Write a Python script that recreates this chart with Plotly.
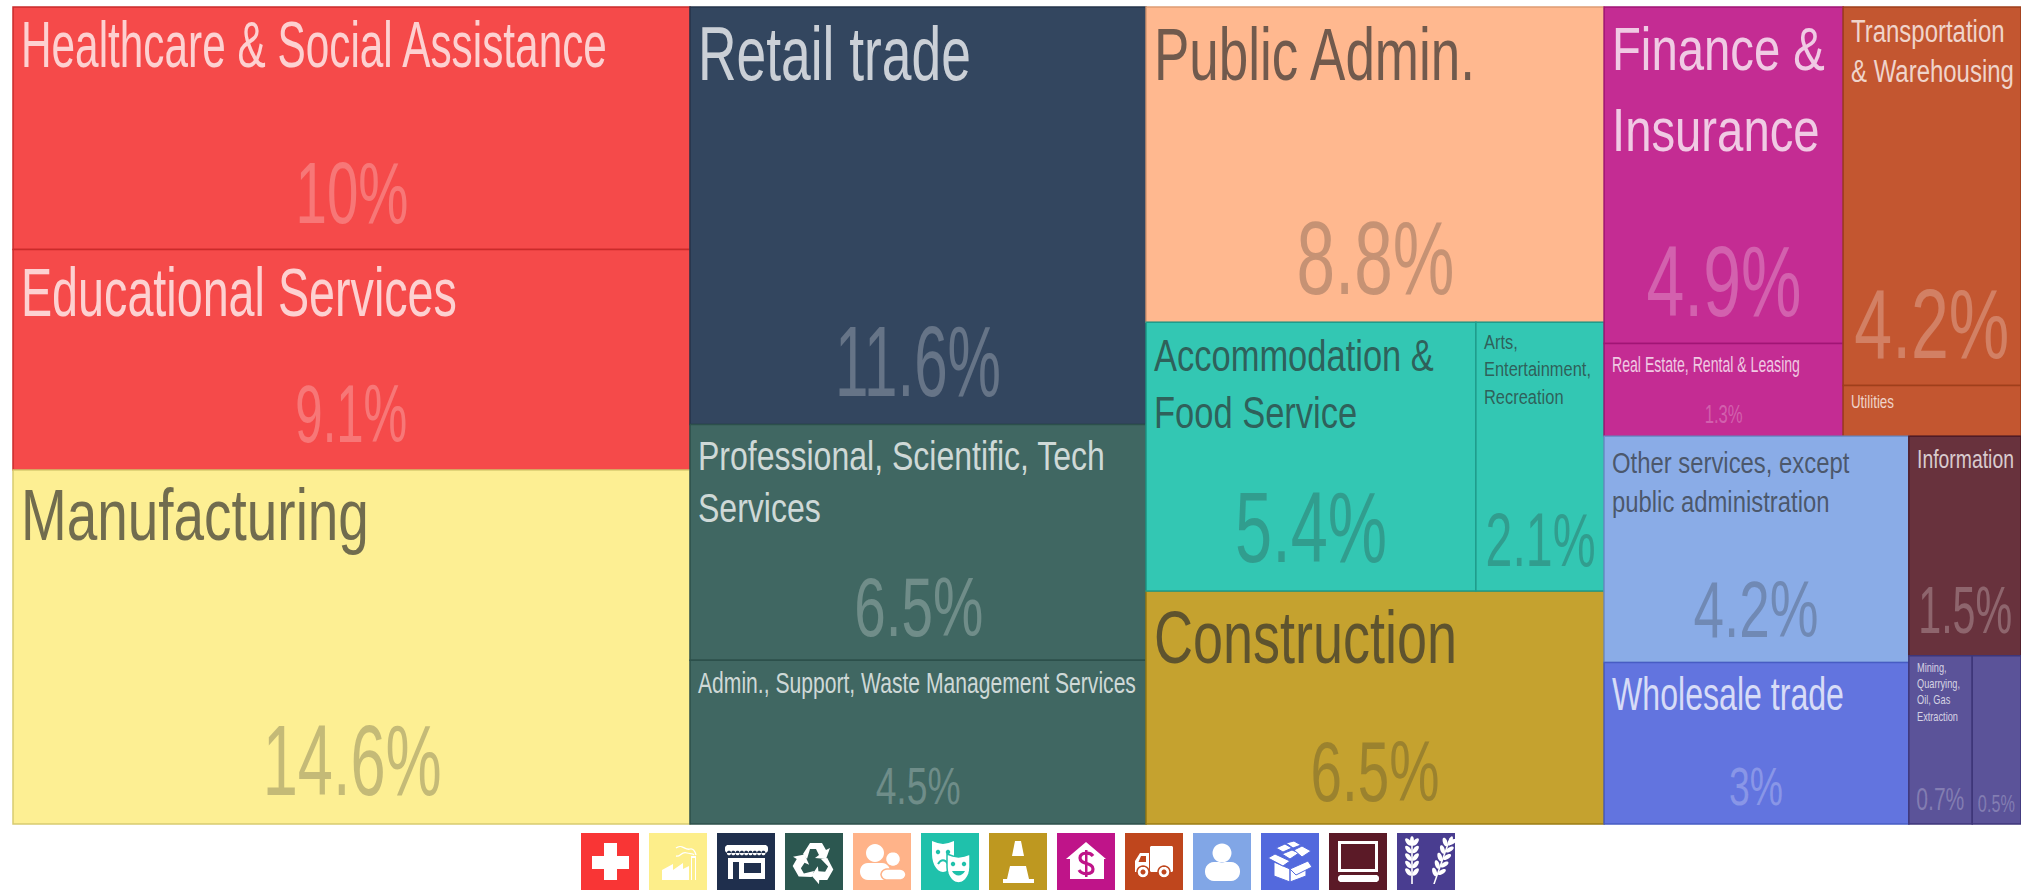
import json
import math
import re
import plotly.graph_objects as go

# ---------- data ----------
sectors = ["Healthcare", "Education", "Manufacturing", "Retail", "Professional", "Admin",
           "Public Admin", "Accommodation", "Arts", "Construction", "Finance", "Real Estate",
           "Transportation", "Utilities", "Other services", "Wholesale", "Information",
           "Mining", "Agriculture"]
values = [10.0, 9.1, 14.6, 11.6, 6.55, 4.55, 8.8, 5.4, 2.1, 6.5, 4.9, 1.35, 4.1, 0.55, 4.2, 3.0, 1.5, 0.65, 0.5]
names = ["Healthcare & Social Assistance", "Educational Services", "Manufacturing", "Retail trade",
         "Professional, Scientific, Tech<br>Services", "Admin., Support, Waste Management Services",
         "Public Admin.", "Accommodation &<br>Food Service", "Arts,<br>Entertainment,<br>Recreation",
         "Construction", "Finance &<br>Insurance", "Real Estate, Rental & Leasing",
         "Transportation<br>& Warehousing", "Utilities", "Other services, except<br>public administration",
         "Wholesale trade", "Information", "Mining,<br>Quarrying,<br>Oil, Gas<br>Extraction", ""]
percents = ["10%", "9.1%", "14.6%", "11.6%", "6.5%", "4.5%", "8.8%", "5.4%", "2.1%", "6.5%", "4.9%",
            "1.3%", "4.2%", "", "4.2%", "3%", "1.5%", "0.7%", "0.5%"]
# nesting of the sectors (slice-and-dice tiling alternates direction per level)
tree = [["Healthcare", "Education", "Manufacturing"],
        ["Retail", "Professional", "Admin"],
        ["Public Admin", ["Accommodation", "Arts"], "Construction"],
        [[["Finance", "Real Estate"], ["Transportation", "Utilities"]],
         [["Other services", "Wholesale"], ["Information", ["Mining", "Agriculture"]]]]]

# ---------- styles ----------
FONT = "Liberation Sans, Arial, sans-serif"
fills = ["#F54A4A", "#F54A4A", "#FDEF93", "#33465F", "#406762", "#406762", "#FFB88F", "#33C7B3", "#33C7B3",
         "#C5A22F", "#C42C93", "#C42C93", "#C35630", "#C35630", "#8AACE7", "#6274DF", "#68323D", "#5B5399", "#5B5399"]
edges = ["#C92B2B", "#C92B2B", "#D8CB70", "#25344B", "#2C504B", "#2C504B", "#DE9C74", "#1F9C8B", "#1F9C8B",
         "#9C7E14", "#A01575", "#A01575", "#9F3F1B", "#9F3F1B", "#6E8FCB", "#475CC4", "#4E1B28", "#3E3679", "#3E3679"]
dark_text = {"Manufacturing", "Public Admin", "Accommodation", "Arts", "Construction", "Other services"}
label_size = [65, 68, 72, 76, 40, 29, 74, 44, 21, 75, 62, 22, 31, 18, 30, 46, 26, 12.5, 10]
label_offset = [38, 43, 46, 47, 32, 23, 48, 33, 19, 46, 42, 20, 24, 16, 26, 31, 22, 12, 12]
label_width = [586, 436, 348, 273, 407, 438, 321, 280, 107, 303, 213, 188, 163, 43, 238, 232, 97, 43, 10]
pct_size = [87, 81, 101, 100, 84, 51, 103, 101, 76, 86, 100, 26, 99, 10, 79, 54, 66, 31, 24]
pct_width = [113, 112, 179, 166, 129, 85, 158, 152, 110, 129, 155, 38, 155, 10, 125, 54, 94, 48, 37]
pct_bottom = [224, 443, 796, 397, 637, 805, 295, 563, 567, 802, 317, 425, 359, 0, 638, 806, 634, 811, 813]
icon_colors = ["#F93535", "#FDEE8A", "#1F2F4D", "#2C5750", "#FFB389", "#1FC1AB", "#BE9820",
               "#BF1489", "#BF461D", "#81A6E6", "#5369DD", "#5B1A27", "#493D90"]

W, H = 2021, 890
L, R, T, B = 13, 2021, 7, 824
idx = {s: i for i, s in enumerate(sectors)}


def px(x):
    return (x - L) / (R - L)


def py(y):
    return (B - y) / (B - T)


# ---------- treemap hierarchy ----------
ids, parents, vals, colors, line_c, line_w = ["root"], [""], [sum(values)], ["rgba(0,0,0,0)"], ["rgba(0,0,0,0)"], [0]
rects = {}


def total(node):
    return values[idx[node]] if isinstance(node, str) else sum(total(c) for c in node)


def walk(node, parent, depth, box, path):
    """Adds children and mirrors the slice-and-dice split to locate the text."""
    x0, y0, x1, y1 = box
    tot = total(node)
    pos = x0 if depth % 2 == 0 else y0
    for k, child in enumerate(node):
        frac = total(child) / tot
        if depth % 2 == 0:
            b = (pos, y0, pos + (x1 - x0) * frac, y1)
            pos = b[2]
        else:
            b = (x0, pos, x1, pos + (y1 - y0) * frac)
            pos = b[3]
        if isinstance(child, str):
            i = idx[child]
            ids.append(child); parents.append(parent); vals.append(values[i])
            colors.append(fills[i]); line_c.append(edges[i]); line_w.append(1.5)
            rects[child] = b
        else:
            nid = f"{path}-{k}"
            ids.append(nid); parents.append(parent); vals.append(total(child))
            colors.append("rgba(0,0,0,0)"); line_c.append("rgba(0,0,0,0)"); line_w.append(0)
            walk(child, nid, depth + 1, b, nid)


walk(tree, "root", 0, (L, T, R, B), "g")

fig = go.Figure(go.Treemap(
    ids=ids, labels=ids, parents=parents, values=vals, branchvalues="total", sort=False,
    textinfo="none", hoverinfo="label+value", pathbar=dict(visible=False),
    tiling=dict(packing="slice-dice", pad=0),
    marker=dict(colors=colors, line=dict(color=line_c, width=line_w), pad=dict(t=0, l=0, r=0, b=0), depthfade=False),
    root=dict(color="rgba(0,0,0,0)"),
))

# ---------- text ----------
ann, fit_w, fit_c = [], [], []
for i, s in enumerate(sectors):
    x0, y0, x1, y1 = rects[s]
    dark = s in dark_text
    lab_col = "rgba(45,45,45,0.68)" if dark else "rgba(255,255,255,0.75)"
    pct_col = "rgba(45,45,45,0.27)" if dark else "rgba(255,255,255,0.25)"
    if names[i]:
        ann.append(dict(text=names[i], x=px(x0 + 7), y=py(y0 + label_offset[i] - 0.58 * label_size[i]),
                        xref="paper", yref="paper", xanchor="left", yanchor="top", align="left", showarrow=False,
                        borderpad=0, font=dict(family=FONT, size=label_size[i], color=lab_col)))
        fit_w.append(label_width[i]); fit_c.append(0)
    if percents[i]:
        ann.append(dict(text=percents[i], x=px((x0 + x1) / 2), y=py(pct_bottom[i] + 0.21 * pct_size[i]),
                        xref="paper", yref="paper", xanchor="center", yanchor="bottom", showarrow=False,
                        borderpad=0, font=dict(family=FONT, size=pct_size[i], color=pct_col)))
        fit_w.append(pct_width[i]); fit_c.append(1)

# ---------- icon strip ----------
ICON_X, ICON_Y, ICON_S, ICON_STEP = 581, 833, 58, 68
shapes = []


def to_paper(path, ox, oy):
    res = ""
    for p in re.split(r"(-?\d+\.?\d*[ ,]+-?\d+\.?\d*)", path):
        m = re.fullmatch(r"(-?\d+\.?\d*)[ ,]+(-?\d+\.?\d*)", p)
        res += f"{px(ox + float(m.group(1))):.6f},{py(oy + float(m.group(2))):.6f}" if m else p
    return res


def poly(points):
    return "M" + " L".join(f"{x:.2f},{y:.2f}" for x, y in points) + " Z "


def circle(cx, cy, r, n=28):
    return poly([(cx + r * math.cos(2 * math.pi * k / n), cy + r * math.sin(2 * math.pi * k / n)) for k in range(n)])


def ellipse(cx, cy, rx, ry, rot=0, n=14):
    c, s = math.cos(rot), math.sin(rot)
    return poly([(cx + rx * math.cos(t) * c - ry * math.sin(t) * s, cy + rx * math.cos(t) * s + ry * math.sin(t) * c)
                 for t in [2 * math.pi * k / n for k in range(n)]])


def rrect(x0, y0, x1, y1, r):
    pts = []
    for cx, cy, a0 in [(x1 - r, y0 + r, -90), (x1 - r, y1 - r, 0), (x0 + r, y1 - r, 90), (x0 + r, y0 + r, 180)]:
        for k in range(7):
            a = math.radians(a0 + 15 * k)
            pts.append((cx + r * math.cos(a), cy + r * math.sin(a)))
    return poly(pts)


def add(path, ox, oy, fill="white", line=None, width=0):
    shapes.append(dict(type="path", path=to_paper(path, ox, oy), xref="paper", yref="paper", layer="above",
                       fillcolor=fill, line=dict(color=line or "rgba(0,0,0,0)", width=width)))


def mask(x0, x1, y0, ytop):
    cx, rx = (x0 + x1) / 2, (x1 - x0) / 2
    pts = [(x0, y0), ((x0 + cx) / 2, y0 + 2), (cx, y0 + 3), ((x1 + cx) / 2, y0 + 2), (x1, y0)]
    pts += [(cx + rx * math.cos(t), y0 + 13 + ytop * math.sin(t)) for t in [math.pi * k / 14 for k in range(15)]]
    return poly(pts)


for n, col in enumerate(icon_colors):
    ox, oy = ICON_X + n * ICON_STEP, ICON_Y
    add(poly([(0, 0), (ICON_S, 0), (ICON_S, ICON_S), (0, ICON_S)]), ox, oy, fill=col)
    if n == 0:  # cross
        add(poly([(23, 10), (36, 10), (36, 23), (48, 23), (48, 36), (36, 36), (36, 47), (23, 47), (23, 36), (11, 36), (11, 23), (23, 23)]), ox, oy)
    elif n == 1:  # factory
        add(poly([(13, 47), (13, 37), (24, 31), (24, 37), (34, 30), (34, 36), (40, 33), (40, 47)]), ox, oy)
        add(poly([(42, 47), (42, 23), (47, 23), (47, 47), (46, 47), (46, 25), (43, 25), (43, 47)]), ox, oy)
        add("M27,15 C33,10 36,18 41,16 C44,15 46,18 47,22", ox, oy, fill="rgba(0,0,0,0)", line="white", width=1.3)
        add("M27,23 C32,24 32,18 38,20 C41,21 44,20 45,22", ox, oy, fill="rgba(0,0,0,0)", line="white", width=1.3)
    elif n == 2:  # store
        add(rrect(8, 12, 51, 20, 3) + "".join(ellipse(12 + 4.3 * k, 20, 2.1, 2.4) for k in range(9)), ox, oy)
        add(poly([(11, 25), (48, 25), (48, 46), (11, 46)]) + poly([(16, 29), (22, 29), (22, 46), (16, 46)]) + poly([(27, 30), (44, 30), (44, 40), (27, 40)]), ox, oy)
    elif n == 3:  # recycling arrows
        arrow = [(-11, -9), (-4, -20), (8, -20), (12, -13), (16, -15), (12, -4), (1, -5), (5, -8), (2, -14), (-4, -14), (-7, -4)]
        for rot in (0, 120, 240):
            a = math.radians(rot)
            add(poly([(29 + x * math.cos(a) - y * math.sin(a), 30 + x * math.sin(a) + y * math.cos(a)) for x, y in arrow]), ox, oy)
    elif n == 4:  # people
        add(circle(22, 20, 9) + rrect(7, 30, 37, 47, 8), ox, oy)
        add(circle(40, 26, 7.5), ox, oy, line=col, width=1.5)
        add(rrect(28, 36, 53, 47, 6), ox, oy, line=col, width=1.5)
    elif n == 5:  # masks
        add(mask(11, 33, 8, 18), ox, oy)
        add(circle(17, 19, 2.2) + circle(27, 19, 2.2), ox, oy, fill=col)
        add("M17,31 C20,26 24,26 27,31", ox, oy, fill="rgba(0,0,0,0)", line=col, width=2)
        add(mask(26, 49, 21, 16), ox, oy, line=col, width=1.5)
        add(circle(32, 31, 2.2) + circle(43, 31, 2.2), ox, oy, fill=col)
        add("M31,38 C34,44 41,44 44,38 Z", ox, oy, fill=col)
    elif n == 6:  # cone
        add(poly([(26, 8), (32, 8), (35, 23), (23, 23)]), ox, oy)
        add(poly([(21, 33), (37, 33), (40, 46), (45, 46), (45, 50), (14, 50), (14, 46), (18, 46)]), ox, oy)
    elif n == 7:  # house with dollar sign
        add(poly([(29, 9), (49, 26), (47, 26), (47, 46), (13, 46), (13, 26), (9, 26)]), ox, oy)
        add("M36,23 C33,19 23,19 23,25 C23,32 36,29 36,36 C36,42 25,42 22,37", ox, oy, fill="rgba(0,0,0,0)", line=col, width=3.2)
        add(poly([(28, 17), (30.5, 17), (30.5, 44), (28, 44)]), ox, oy, fill=col)
    elif n == 8:  # truck
        add(rrect(25, 13, 48, 39, 1.5), ox, oy)
        add(poly([(15, 20), (24, 20), (24, 39), (10, 39), (10, 28)]) + poly([(16, 23), (21, 23), (21, 29), (13.5, 29)]), ox, oy)
        add(circle(18, 39, 6) + circle(39, 39, 6), ox, oy, line=col, width=1.5)
        add(circle(18, 39, 2.5) + circle(39, 39, 2.5), ox, oy, fill=col)
    elif n == 9:  # person
        add(circle(29, 20, 9.5) + rrect(12, 29, 47, 48, 9), ox, oy)
    elif n == 10:  # open box
        add(poly([(13, 29), (29, 36), (45, 29), (45, 43), (29, 49), (13, 43)]), ox, oy, line=col, width=1)
        add(poly([(29, 36), (29, 49)]), ox, oy, line=col, width=1)
        add(poly([(7, 25), (14, 21), (29, 28), (22, 33)]), ox, oy, line=col, width=1)
        add(poly([(29, 36), (47, 28), (51, 34), (35, 42)]), ox, oy, line=col, width=1)
        add(poly([(15, 15), (24, 11), (31, 15), (22, 19)]), ox, oy, line=col, width=1)
        add(poly([(25, 10), (33, 8), (40, 12), (32, 15)]), ox, oy, line=col, width=1)
        add(poly([(21, 21), (31, 17), (38, 20), (29, 26)]), ox, oy, line=col, width=1)
        add(poly([(33, 17), (41, 13), (50, 18), (41, 24)]), ox, oy, line=col, width=1)
    elif n == 11:  # laptop
        add(poly([(9, 8), (49, 8), (49, 39), (9, 39)]) + poly([(12, 11), (46, 11), (46, 36), (12, 36)]), ox, oy)
        add(rrect(9, 42, 50, 49, 3), ox, oy)
    elif n == 12:  # wheat
        for cx, base, tilt in ((15, 51, 0.0), (37, 51, 0.35)):
            for k in range(5):
                t = 6 + k * 7.5
                yy = base - 6 - t
                xx = cx + tilt * (t + 6)
                add(ellipse(xx - 3.6, yy, 4.6, 2.2, 0.9 + tilt) + ellipse(xx + 3.6, yy, 4.6, 2.2, -0.9 + tilt), ox, oy)
            add(ellipse(cx + tilt * 47, base - 43, 2, 5, tilt), ox, oy)
            add(poly([(cx - 0.8, base), (cx + 0.8, base), (cx + 0.8 + tilt * 43, base - 43), (cx - 0.8 + tilt * 43, base - 43)]), ox, oy)

fig.update_layout(width=W, height=H, margin=dict(l=L, r=W - R, t=T, b=H - B, pad=0),
                  paper_bgcolor="white", annotations=ann, shapes=shapes)

# The reference uses a tall condensed face: narrow each text horizontally to its measured width.
post = """
document.body.style.margin='0';document.body.style.overflow='hidden';
var fitW=%s, fitC=%s;
document.querySelectorAll('.annotation-text').forEach(function(t,i){
  var b=t.getBBox(), s=fitW[i]/b.width, p=fitC[i]?b.x+b.width/2:b.x;
  t.setAttribute('transform','translate('+(p*(1-s))+',0) scale('+s+',1)');
});
""" % (json.dumps(fit_w), json.dumps(fit_c))
fig.write_html("out.html", config={"displayModeBar": False}, post_script=post)
